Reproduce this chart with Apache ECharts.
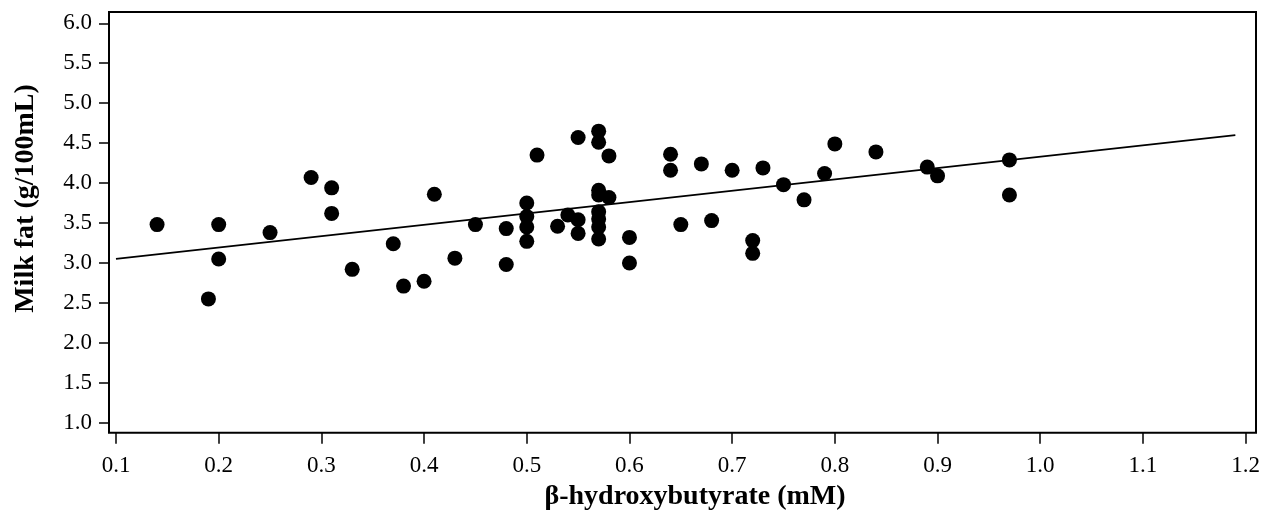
<!DOCTYPE html>
<html>
<head>
<meta charset="utf-8">
<script src="https://cdn.jsdelivr.net/npm/echarts@6/dist/echarts.min.js"></script>
<style>
html,body{margin:0;padding:0;background:#fff;}
#chart{width:1263px;height:515px;}
</style>
</head>
<body>
<div id="chart"></div>
<script>
// β-hydroxybutyrate (mM)
const bhbValues = [
  0.14, 0.19, 0.20, 0.20, 0.25, 0.29, 0.31, 0.31, 0.33, 0.37,
  0.38, 0.40, 0.41, 0.43, 0.45, 0.48, 0.48, 0.50, 0.50, 0.50,
  0.50, 0.51, 0.53, 0.54, 0.55, 0.55, 0.55, 0.57, 0.57, 0.57,
  0.57, 0.57, 0.57, 0.57, 0.57, 0.58, 0.58, 0.60, 0.60, 0.64,
  0.64, 0.65, 0.67, 0.68, 0.70, 0.72, 0.72, 0.73, 0.75, 0.77,
  0.79, 0.80, 0.84, 0.89, 0.90, 0.97, 0.97
];
// Milk fat (g/100mL)
const milkFatValues = [
  3.48, 2.55, 3.48, 3.05, 3.38, 4.07, 3.94, 3.62, 2.92, 3.24,
  2.71, 2.77, 3.86, 3.06, 3.48, 3.43, 2.98, 3.75, 3.58, 3.45,
  3.27, 4.35, 3.46, 3.60, 4.57, 3.54, 3.37, 4.65, 4.51, 3.91,
  3.85, 3.64, 3.55, 3.45, 3.30, 4.34, 3.82, 3.32, 3.00, 4.36,
  4.16, 3.48, 4.24, 3.53, 4.16, 3.28, 3.12, 4.19, 3.98, 3.79,
  4.12, 4.49, 4.39, 4.20, 4.09, 4.29, 3.85
];
// Regression line endpoints
const fitX = [0.10, 1.19];
const fitY = [3.05, 4.60];

const xTicks = [0.1, 1.2, 0.1]; // min, max, step
const yTicks = [1.0, 6.0, 0.5];

const xTitle = 'β-hydroxybutyrate (mM)';
const yTitle = 'Milk fat (g/100mL)';

const serif = '"Liberation Serif", "Times New Roman", serif';

const points = bhbValues.map((x, i) => [x, milkFatValues[i]]);
const fitLine = fitX.map((x, i) => [x, fitY[i]]);

const chart = echarts.init(document.getElementById('chart'), null, {renderer: 'canvas'});

chart.setOption({
  backgroundColor: '#fff',
  animation: false,
  grid: [
    {left: 116, right: 15.3, top: 23.3, bottom: 92.3, show: false},
    {left: 109, right: 7, top: 12, bottom: 82.3, show: true, borderColor: '#000', borderWidth: 2, backgroundColor: 'transparent'}
  ],
  xAxis: [
    {
      type: 'value', gridIndex: 0,
      min: xTicks[0], max: xTicks[1], interval: xTicks[2],
      offset: 10,
      axisLine: {show: false},
      axisTick: {show: true, inside: false, length: 11, lineStyle: {color: '#000', width: 1.5}},
      splitLine: {show: false},
      axisLabel: {
        color: '#000', fontFamily: serif, fontSize: 23, margin: 22,
        formatter: v => v.toFixed(1)
      }
    },
    {type: 'value', gridIndex: 1, min: 0, max: 1, show: false}
  ],
  yAxis: [
    {
      type: 'value', gridIndex: 0,
      min: yTicks[0], max: yTicks[1], interval: yTicks[2],
      offset: 7,
      axisLine: {show: false},
      axisTick: {show: true, inside: false, length: 10, lineStyle: {color: '#000', width: 1.5}},
      splitLine: {show: false},
      axisLabel: {
        color: '#000', fontFamily: serif, fontSize: 23, margin: 17,
        formatter: v => v.toFixed(1)
      }
    },
    {type: 'value', gridIndex: 1, min: 0, max: 1, show: false}
  ],
  graphic: [
    {
      type: 'text', x: 695, y: 497,
      style: {
        text: xTitle, fill: '#000',
        font: 'bold 28px ' + serif,
        align: 'center', verticalAlign: 'middle'
      }
    },
    {
      type: 'text', x: 26, y: 198.5, rotation: Math.PI / 2,
      style: {
        text: yTitle, fill: '#000',
        font: 'bold 28px ' + serif,
        align: 'center', verticalAlign: 'middle'
      }
    }
  ],
  series: [
    {
      type: 'line', xAxisIndex: 0, yAxisIndex: 0,
      data: fitLine, showSymbol: false, symbol: 'none',
      lineStyle: {color: '#000', width: 1.8},
      z: 2
    },
    {
      type: 'scatter', xAxisIndex: 0, yAxisIndex: 0,
      data: points, symbol: 'circle', symbolSize: 15,
      itemStyle: {color: '#000', opacity: 1},
      z: 3
    }
  ]
});
</script>
</body>
</html>
